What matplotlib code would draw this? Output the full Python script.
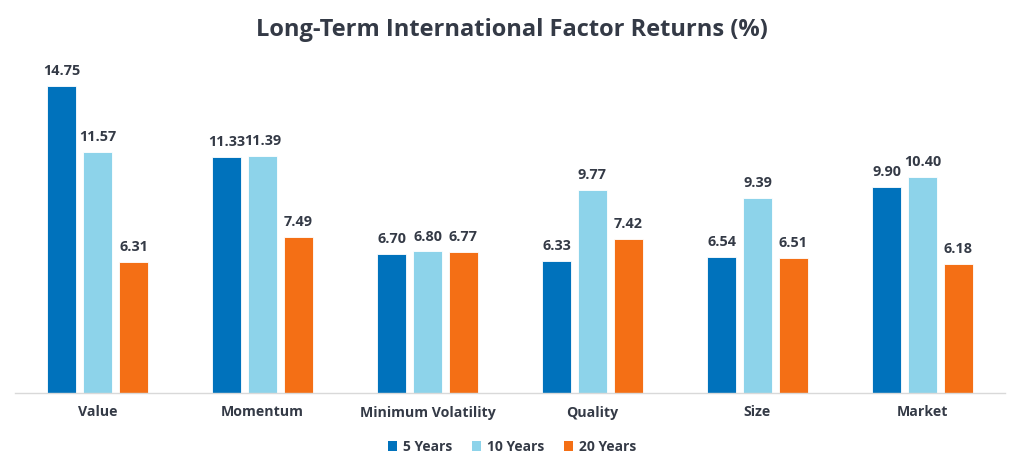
import numpy as np
import matplotlib
matplotlib.use("Agg")
import matplotlib.pyplot as plt
from matplotlib.patches import Patch

categories = ["Value", "Momentum", "Minimum Volatility", "Quality", "Size", "Market"]
series_names = ["5 Years", "10 Years", "20 Years"]
five_years = [14.75, 11.33, 6.70, 6.33, 6.54, 9.90]
ten_years = [11.57, 11.39, 6.80, 9.77, 9.39, 10.40]
twenty_years = [6.31, 7.49, 6.77, 7.42, 6.51, 6.18]

colors = ["#0072BC", "#8DD3EA", "#F46F15"]
text_color = "#343a46"

plt.rcParams["font.family"] = ["Open Sans", "DejaVu Sans"]

fig = plt.figure(figsize=(10.24, 4.72), dpi=100)
ax = fig.add_axes([15 / 1024, 79 / 472, 990 / 1024, 333 / 472])

x = np.arange(len(categories))
width = 0.176
step = 0.218

for i, (vals, name) in enumerate(zip([five_years, ten_years, twenty_years], series_names)):
    pos = x + (i - 1) * step
    bars = ax.bar(pos, vals, width=width, color=colors[i], edgecolor="white",
                  linewidth=0.6, zorder=2)
    for b, v in zip(bars, vals):
        ax.text(b.get_x() + b.get_width() / 2, v + 0.38, f"{v:.2f}",
                ha="center", va="bottom", fontsize=10.4, fontweight="bold",
                color=text_color)

ax.set_xlim(-0.5, len(categories) - 0.5)
ax.set_ylim(0, 16)
ax.set_yticks([])
ax.set_xticks(x)
ax.set_xticklabels(categories, fontsize=10.2, fontweight="bold", color=text_color)
ax.tick_params(axis="x", length=0, pad=9)

for s in ["top", "right", "left"]:
    ax.spines[s].set_visible(False)
ax.spines["bottom"].set_color("#d9d9d9")
ax.spines["bottom"].set_linewidth(1.0)

fig.suptitle("Long-Term International Factor Returns (%)", y=0.962,
             fontsize=17, fontweight="bold", color=text_color)

handles = [Patch(facecolor=c, label=n) for c, n in zip(colors, series_names)]
leg = fig.legend(handles=handles, loc="center", bbox_to_anchor=(0.5, 0.053),
                 ncol=3, frameon=False, handlelength=0.7, handleheight=0.7,
                 handletextpad=0.4, columnspacing=1.4,
                 prop={"size": 10, "weight": "bold"})
for t in leg.get_texts():
    t.set_color(text_color)

fig.savefig("out.png", dpi=100, facecolor="white")
